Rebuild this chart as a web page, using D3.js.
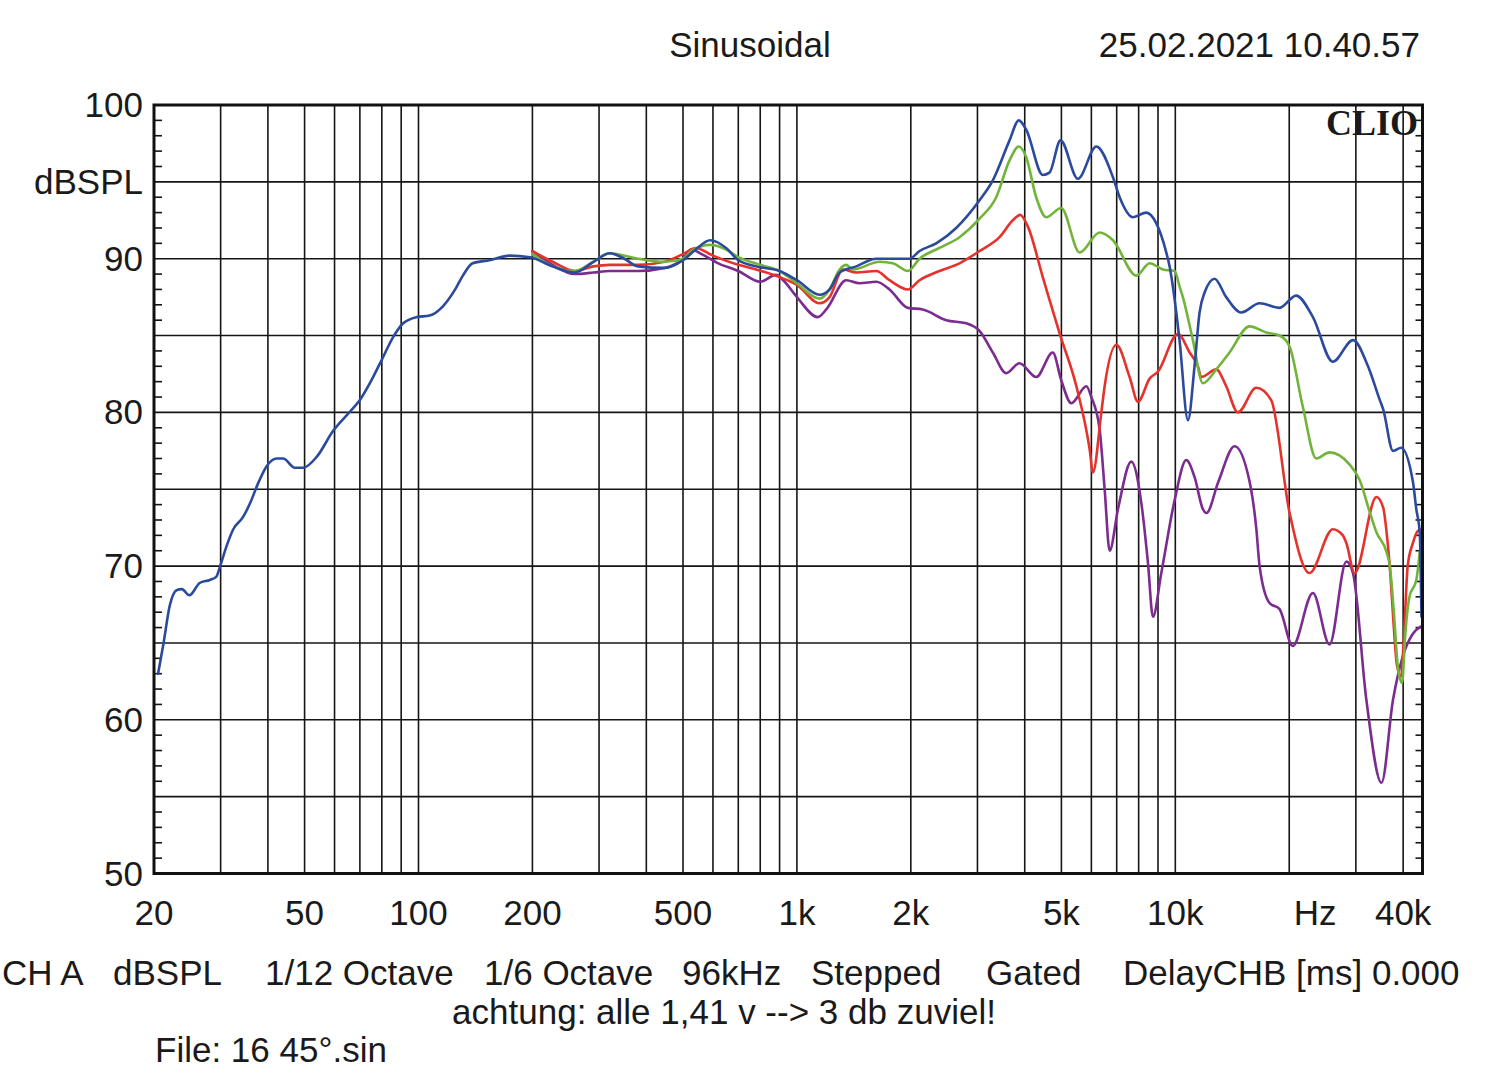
<!DOCTYPE html>
<html><head><meta charset="utf-8">
<script src="https://cdn.jsdelivr.net/npm/d3@7"></script>
<style>
body{margin:0;background:#fff}
svg text{font-family:"Liberation Sans",Arial,sans-serif;fill:#1a1a1a}
</style>
</head><body>
<svg id="c" width="1500" height="1086"></svg>
<script>
// ---- tick labels ----
const xTickValues = [20, 50, 100, 200, 500, 1000, 2000, 5000, 10000, 20000, 40000];
const xTickLabels = ["20", "50", "100", "200", "500", "1k", "2k", "5k", "10k", "Hz", "40k"];
const yTickValues = [50, 60, 70, 80, 90, 100];
const yTickLabels = ["50", "60", "70", "80", "90", "100"];
const gridFreqs = [30,40,50,60,70,80,90,100,200,300,400,500,600,700,800,900,
  1000,2000,3000,4000,5000,6000,7000,8000,9000,10000,20000,30000,40000];
const gridLevels = [55,60,65,70,75,80,85,90,95];

// ---- series (frequency Hz, dBSPL) ----
const blue = [[20.5,63.0],[21.2,65.0],[22.0,67.4],[23.0,68.45],[23.7,68.5],[24.8,68.1],[26.4,68.9],[28.1,69.1],[29.2,69.3],[30.0,70.1],[31.1,71.3],[32.4,72.4],[34.4,73.2],[35.9,74.1],[37.7,75.4],[39.7,76.5],[42.2,77.0],[43.9,77.0],[47.1,76.4],[49.6,76.4],[53.8,77.1],[59.5,78.8],[65.9,80.05],[70.0,80.8],[74.4,81.9],[79.9,83.4],[85.7,84.9],[91.1,85.8],[98.8,86.2],[107,86.3],[116,86.9],[125,88.0],[131,88.9],[139,89.7],[154,89.9],[174,90.2],[197,90.1],[226,89.5],[259,89.1],[290,89.8],[320,90.35],[350,90.0],[380,89.5],[447,89.4],[500,89.9],[540,90.6],[590,91.2],[650,90.7],[700,89.9],[800,89.45],[900,89.2],[1000,88.6],[1148,87.65],[1220,88.0],[1297,89.1],[1435,89.5],[1621,90.0],[1757,90.0],[1985,90.0],[2109,90.5],[2334,91.0],[2636,92.0],[3038,93.8],[3294,95.1],[3647,97.7],[3858,99.0],[4036,98.4],[4465,95.45],[4651,95.6],[4973,97.7],[5529,95.2],[6184,97.3],[6842,95.3],[7127,94.0],[7727,92.7],[8385,93.0],[8909,92.3],[9467,90.4],[9659,89.5],[10060,86.5],[10260,84.7],[10800,79.5],[11240,83.0],[11590,86.5],[11950,87.8],[12700,88.7],[13630,87.5],[14930,86.5],[16700,87.1],[18860,86.8],[20850,87.6],[23100,86.2],[26070,83.3],[29480,84.7],[32300,83.0],[34710,80.8],[35430,80.2],[37610,77.5],[39500,77.7],[42440,75.5],[43340,73.7],[44250,72.2],[44720,66.7]];

const green = [[200,90.3],[226,89.5],[259,89.2],[290,89.8],[320,90.35],[380,90.0],[447,89.8],[500,90.0],[526,90.5],[590,90.9],[650,90.6],[700,90.1],[800,89.6],[900,89.2],[1000,88.4],[1148,87.4],[1220,88.0],[1297,89.3],[1350,89.6],[1406,89.3],[1654,89.8],[1793,89.7],[1964,89.2],[2109,90.0],[2381,90.7],[2690,91.4],[3038,92.6],[3363,94.0],[3647,96.4],[3858,97.3],[4036,96.6],[4289,94.0],[4558,92.7],[4994,93.3],[5587,90.4],[6310,91.7],[6842,91.2],[7889,88.9],[8554,89.7],[9274,89.3],[9960,89.2],[10260,88.2],[10470,87.5],[11130,84.7],[11830,81.9],[12830,82.8],[13910,83.9],[15710,85.6],[17380,85.2],[18860,85.0],[20030,84.3],[21710,80.4],[23580,77.0],[25560,77.4],[28890,76.6],[30700,75.6],[32650,73.5],[34000,72.2],[36170,70.9],[36890,70.0],[37800,67.0],[38710,63.5],[39740,62.4],[40500,65.5],[41570,68.0],[43340,69.1],[44250,70.9]];

const red = [[200,90.5],[226,89.8],[259,89.2],[290,89.5],[320,89.6],[380,89.6],[447,89.8],[500,90.3],[540,90.7],[600,90.2],[700,89.6],[780,89.3],[900,88.8],[1000,88.3],[1148,87.1],[1220,87.5],[1323,89.3],[1435,89.1],[1621,89.2],[1757,88.6],[1964,88.0],[2109,88.6],[2381,89.2],[2690,89.7],[3038,90.5],[3431,91.4],[3720,92.5],[3891,92.85],[4075,92.1],[4465,88.8],[4943,85.15],[5476,81.7],[5938,77.6],[6058,76.1],[6375,80.0],[6505,81.7],[6986,84.4],[7571,82.3],[7966,80.7],[8554,82.2],[8995,82.65],[10160,85.1],[10910,83.9],[11470,83.0],[11710,82.3],[12830,82.8],[13630,81.7],[14630,80.0],[16360,81.6],[17920,80.8],[20030,73.5],[22630,69.55],[26070,72.4],[27720,72.0],[28310,71.5],[29780,69.55],[34000,74.5],[35430,73.8],[36170,72.2],[37000,69.5],[37800,66.0],[38500,63.6],[39500,62.8],[40300,66.0],[41120,70.0],[42440,71.5],[43800,72.3],[44800,72.4]];

const purple = [[200,90.5],[226,89.6],[259,89.0],[290,89.1],[320,89.2],[380,89.2],[447,89.4],[500,90.0],[526,90.6],[560,90.3],[620,89.7],[700,89.2],[800,88.5],[880,88.95],[920,88.6],[1000,87.5],[1136,86.2],[1196,86.7],[1350,88.6],[1464,88.4],[1621,88.5],[1757,88.0],[1964,86.8],[2151,86.7],[2481,86.0],[2802,85.8],[3038,85.3],[3294,83.9],[3574,82.55],[3874,83.2],[4289,82.3],[4745,83.9],[4994,82.1],[5312,80.6],[5820,81.7],[5999,81.0],[6310,78.9],[6505,75.0],[6706,71.0],[7054,73.7],[7650,76.8],[8133,74.1],[8467,70.2],[8726,66.7],[9183,69.55],[9960,74.3],[10690,76.9],[11240,75.8],[11830,73.7],[12080,73.45],[13000,75.5],[14340,77.8],[15710,75.5],[16360,72.5],[16700,70.0],[17740,67.6],[18860,67.2],[20430,64.8],[23100,68.25],[25560,64.9],[28310,70.3],[29480,69.55],[31980,61.3],[35070,55.9],[37610,61.3],[39880,64.1],[42440,65.6],[44720,66.1]];

const seriesList = [
  {data: purple, color: "#7b2c8e"},
  {data: red, color: "#e5322c"},
  {data: green, color: "#72b43a"},
  {data: blue, color: "#2b4a9e"}
];

// ---- layout ----
const svg = d3.select("#c");
const L = 154, R = 1422.5, T = 105, B = 873.5;
const x = d3.scaleLog().domain([20, 45000]).range([L, R]);
const y = d3.scaleLinear().domain([50, 100]).range([B, T]);

const grid = svg.append("g").attr("stroke", "#151515").attr("stroke-width", 1.6);
grid.selectAll("line.v").data(gridFreqs).join("line")
  .attr("x1", d => x(d)).attr("x2", d => x(d)).attr("y1", T).attr("y2", B);
grid.selectAll("line.h").data(gridLevels).join("line")
  .attr("x1", L).attr("x2", R).attr("y1", d => y(d)).attr("y2", d => y(d));

// minor y ticks (every 1 dB) on both sides
const minor = d3.range(51, 100).filter(v => v % 5 !== 0);
const mt = svg.append("g").attr("stroke", "#151515").attr("stroke-width", 1.6);
mt.selectAll("line.l").data(minor).join("line")
  .attr("x1", L).attr("x2", L + 8).attr("y1", d => y(d)).attr("y2", d => y(d));
mt.selectAll("line.r").data(minor).join("line")
  .attr("x1", R - 7).attr("x2", R).attr("y1", d => y(d)).attr("y2", d => y(d));

// curves
const line = d3.line().x(d => x(d[0])).y(d => y(d[1])).curve(d3.curveMonotoneX);
const cg = svg.append("g").attr("fill", "none").attr("stroke-width", 2.6)
  .attr("stroke-linejoin", "round").attr("stroke-linecap", "round");
seriesList.forEach(s => cg.append("path").attr("d", line(s.data)).attr("stroke", s.color));

// border
svg.append("rect").attr("x", L).attr("y", T).attr("width", R - L).attr("height", B - T)
  .attr("fill", "none").attr("stroke", "#111").attr("stroke-width", 3);

// x tick labels
const fs = 35;
const xOffsets = {"Hz": 26};
svg.append("g").selectAll("text").data(xTickValues).join("text")
  .attr("x", (d, i) => x(d) + (xOffsets[xTickLabels[i]] || 0))
  .attr("y", 925).attr("text-anchor", "middle").attr("font-size", fs)
  .text((d, i) => xTickLabels[i]);

// y tick labels
svg.append("g").selectAll("text").data(yTickValues).join("text")
  .attr("x", 143).attr("y", d => y(d) + 12).attr("text-anchor", "end").attr("font-size", fs)
  .text((d, i) => yTickLabels[i]);
svg.append("text").attr("x", 143).attr("y", y(95) + 12).attr("text-anchor", "end")
  .attr("font-size", fs).text("dBSPL");

// titles
svg.append("text").attr("x", 750).attr("y", 57).attr("text-anchor", "middle").attr("font-size", fs).text("Sinusoidal");
svg.append("text").attr("x", 1420).attr("y", 57).attr("text-anchor", "end").attr("font-size", fs).text("25.02.2021 10.40.57");
svg.append("text").attr("x", 1418).attr("y", 135).attr("text-anchor", "end")
  .attr("font-size", 36).attr("font-weight", "bold")
  .style("font-family", "'Liberation Serif','Times New Roman',serif").text("CLIO");

// footer
const footer = [
  {t: "CH A", x: 2}, {t: "dBSPL", x: 113}, {t: "1/12 Octave", x: 265}, {t: "1/6 Octave", x: 484},
  {t: "96kHz", x: 682}, {t: "Stepped", x: 811}, {t: "Gated", x: 986}, {t: "DelayCHB [ms] 0.000", x: 1123}
];
svg.append("g").selectAll("text").data(footer).join("text")
  .attr("x", d => d.x).attr("y", 985).attr("font-size", fs).text(d => d.t);
svg.append("text").attr("x", 724).attr("y", 1024).attr("text-anchor", "middle").attr("font-size", fs)
  .text("achtung: alle 1,41 v --> 3 db zuviel!");
svg.append("text").attr("x", 155).attr("y", 1062).attr("font-size", fs).text("File: 16 45°.sin");
</script>
</body></html>
